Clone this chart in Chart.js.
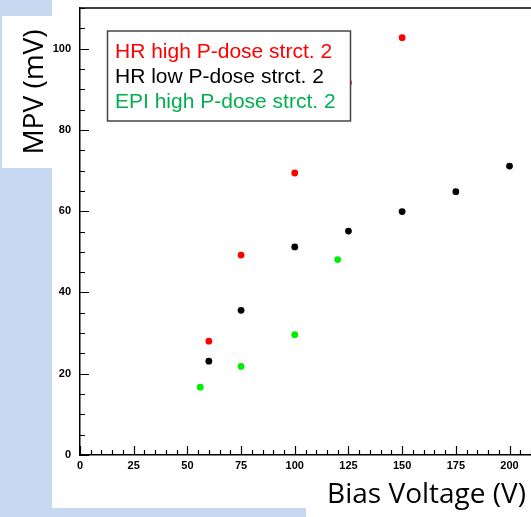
<!DOCTYPE html>
<html>
<head>
<meta charset="utf-8">
<script src="https://cdn.jsdelivr.net/npm/chart.js@4/dist/chart.umd.min.js"></script>
<style>
  html, body { margin: 0; padding: 0; background: #fff; }
  #wrap { position: relative; width: 531px; height: 517px; }
</style>
</head>
<body>
<div id="wrap"><canvas id="mpv" width="531" height="517"></canvas></div>
<script>
// bias voltage (V) and MPV (mV) per structure
var voltsHighHR = [60, 75, 100, 125, 150];
var mpvHighHR   = [28.0, 49.2, 69.4, 91.6, 102.7];

var voltsLowHR = [60, 75, 100, 125, 150, 175, 200];
var mpvLowHR   = [23.1, 35.6, 51.2, 55.1, 59.9, 64.8, 71.1];

var voltsEpi = [56, 75, 100, 120];
var mpvEpi   = [16.7, 21.8, 29.6, 48.1];

var seriesNames = ['HR high P-dose strct. 2', 'HR low P-dose strct. 2', 'EPI high P-dose strct. 2'];
var pointColors = ['#ff0000', '#000000', '#00ee00'];
var textColors  = ['#ff0000', '#000000', '#00b050'];

function toPoints(xs, ys) {
  return xs.map(function (x, i) { return { x: x, y: ys[i] }; });
}

var blue = '#c6d9f0';

// slide background, inward ROOT style ticks, frame, legend box and titles
var decor = {
  id: 'decor',
  beforeDraw: function (chart) {
    var c = chart.ctx;
    c.save();
    c.fillStyle = '#fff';
    c.fillRect(0, 0, 531, 517);
    c.fillStyle = blue;
    c.fillRect(0, 0, 52, 517);
    c.fillRect(0, 508, 306, 9);
    c.fillStyle = '#fff';
    c.fillRect(2, 16, 50, 152);
    c.restore();
  },
  afterDatasetsDraw: function (chart) {
    var c = chart.ctx, a = chart.chartArea;
    var xs = chart.scales.x, ys = chart.scales.y;
    c.save();
    c.strokeStyle = '#000';
    c.lineWidth = 1.2;
    c.beginPath();
    for (var v = 0; v <= 210; v += 5) {
      var px = Math.round(xs.getPixelForValue(v)) + 0.5;
      var len = v % 25 === 0 ? 9 : 5;
      c.moveTo(px, a.bottom);
      c.lineTo(px, a.bottom - len);
    }
    for (var w = 0; w <= 110; w += 5) {
      var py = Math.round(ys.getPixelForValue(w)) + 0.5;
      var l2 = w % 20 === 0 ? 9 : 5;
      c.moveTo(a.left, py);
      c.lineTo(a.left + l2, py);
    }
    c.stroke();
    // top frame line
    c.lineWidth = 1.5;
    c.beginPath();
    c.moveTo(a.left, a.top);
    c.lineTo(531, a.top);
    c.stroke();

    // legend box
    c.fillStyle = '#fff';
    c.fillRect(107, 31, 244, 90);
    c.strokeStyle = '#444';
    c.lineWidth = 1.5;
    c.strokeRect(107.5, 31, 243, 90);
    c.font = '21px "Liberation Sans", Arial, sans-serif';
    c.textBaseline = 'middle';
    c.textAlign = 'left';
    for (var i = 0; i < seriesNames.length; i++) {
      c.fillStyle = textColors[i];
      c.fillText(seriesNames[i], 115, 52 + i * 25);
    }

    // axis titles
    c.fillStyle = '#000';
    c.font = '28px "Open Sans", Lato, sans-serif';
    c.textAlign = 'right';
    c.textBaseline = 'alphabetic';
    c.fillText('Bias Voltage (V)', 526, 503);
    c.save();
    c.translate(43, 92);
    c.rotate(-Math.PI / 2);
    c.textAlign = 'center';
    c.fillText('MPV (mV)', 0, 0);
    c.restore();
    c.restore();
  }
};

var tickFont = { family: '"Liberation Sans", Arial, sans-serif', size: 11, weight: 'bold' };

var chart = new Chart(document.getElementById('mpv').getContext('2d'), {
  type: 'scatter',
  data: {
    datasets: [
      { label: seriesNames[0], data: toPoints(voltsHighHR, mpvHighHR), backgroundColor: pointColors[0], borderColor: pointColors[0] },
      { label: seriesNames[1], data: toPoints(voltsLowHR, mpvLowHR), backgroundColor: pointColors[1], borderColor: pointColors[1] },
      { label: seriesNames[2], data: toPoints(voltsEpi, mpvEpi), backgroundColor: pointColors[2], borderColor: pointColors[2] }
    ]
  },
  options: {
    responsive: false,
    animation: false,
    layout: { autoPadding: false, padding: { left: 0, top: 8, right: 0, bottom: 0 } },
    elements: { point: { radius: 3.4, borderWidth: 0 } },
    plugins: { legend: { display: false }, tooltip: { enabled: false } },
    scales: {
      x: {
        type: 'linear',
        min: 0, max: 210,
        grid: { display: false, tickLength: 0 },
        border: { display: true, color: '#000', width: 1.5 },
        ticks: { stepSize: 25, includeBounds: false, color: '#000', font: tickFont, padding: 4, maxRotation: 0 },
        afterFit: function (s) { s.height = 62; s.paddingLeft = 0; s.paddingRight = 0; }
      },
      y: {
        type: 'linear',
        min: 0, max: 110,
        grid: { display: false, tickLength: 0 },
        border: { display: true, color: '#000', width: 1.5 },
        ticks: { stepSize: 20, includeBounds: false, color: '#000', font: tickFont, padding: 9 },
        afterFit: function (s) { s.width = 80; s.paddingTop = 0; s.paddingBottom = 0; }
      }
    }
  },
  plugins: [decor]
});
</script>
</body>
</html>
